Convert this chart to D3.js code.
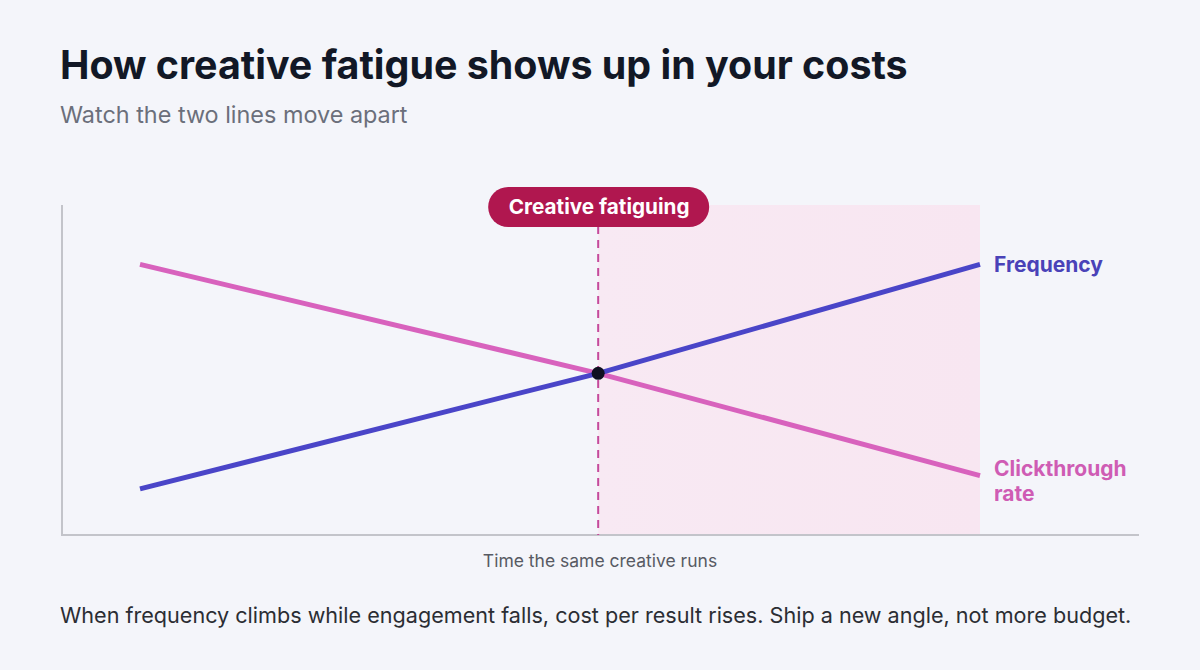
<!DOCTYPE html>
<html><head><meta charset="utf-8">
<script src="https://cdn.jsdelivr.net/npm/d3@7"></script>
<style>
html,body{margin:0;padding:0;background:#f4f5fa;}
svg{display:block;font-family:Inter,"Noto Sans",sans-serif;}
</style></head>
<body>
<svg id="chart" width="1200" height="670"></svg>
<script>
const timePoints = [0, 6, 11];
const frequency = [14, 49, 82];
const clickthrough = [82, 49, 18];
const fatigueStart = 6;
const fatigueEnd = 11;
const seriesNames = ["Frequency", "Clickthrough rate"];

const svg = d3.select("#chart");
svg.append("rect").attr("width",1200).attr("height",670).attr("fill","#f4f5fa");

svg.append("text").attr("x",60).attr("y",79).attr("font-size",39.4).attr("font-weight",700)
  .attr("fill","#121826").text("How creative fatigue shows up in your costs");
svg.append("text").attr("x",60).attr("y",123).attr("font-size",23.4).attr("fill","#6b6f7b")
  .text("Watch the two lines move apart");

const x = d3.scaleLinear().domain([0, 11]).range([140, 980]);
const y = d3.scaleLinear().domain([0, 100]).range([535, 205]);
const xAxisStart = 62, xAxisEnd = 1139;

// shaded fatigue zone
const defs = svg.append("defs");
const g = defs.append("linearGradient").attr("id","zone").attr("x1","0").attr("x2","1");
g.append("stop").attr("offset","0").attr("stop-color","#f8e9f3");
g.append("stop").attr("offset","1").attr("stop-color","#f8e6f1");
svg.append("rect").attr("x",x(fatigueStart)).attr("y",y(100))
  .attr("width",x(fatigueEnd)-x(fatigueStart)).attr("height",y(0)-y(100)).attr("fill","url(#zone)");

// axes
svg.append("line").attr("x1",xAxisStart).attr("x2",xAxisStart).attr("y1",y(100)).attr("y2",y(0))
  .attr("stroke","#c3c4ca").attr("stroke-width",2);
svg.append("line").attr("x1",xAxisStart-1).attr("x2",xAxisEnd).attr("y1",y(0)).attr("y2",y(0))
  .attr("stroke","#c3c4ca").attr("stroke-width",2);

// dashed marker
svg.append("line").attr("x1",x(fatigueStart)).attr("x2",x(fatigueStart))
  .attr("y1",226).attr("y2",y(0)).attr("stroke","#c54a9c").attr("stroke-width",2)
  .attr("stroke-dasharray","8,6");

const line = d3.line().x((d,i)=>x(timePoints[i])).y(d=>y(d));
svg.append("path").datum(clickthrough).attr("d",line).attr("fill","none")
  .attr("stroke","#d862bd").attr("stroke-width",5);
svg.append("path").datum(frequency).attr("d",line).attr("fill","none")
  .attr("stroke","#4a45c8").attr("stroke-width",5);

svg.append("circle").attr("cx",x(timePoints[1])).attr("cy",y(frequency[1])).attr("r",6.5).attr("fill","#0f1020");

// badge
const bx = x(fatigueStart);
svg.append("rect").attr("x",bx-110).attr("y",187).attr("width",221).attr("height",40)
  .attr("rx",20).attr("fill","#b0174f");
svg.append("text").attr("x",bx+1).attr("y",214).attr("text-anchor","middle").attr("font-size",20.7)
  .attr("font-weight",700).attr("fill","#ffffff").text("Creative fatiguing");

// series labels
svg.append("text").attr("x",994).attr("y",y(frequency[2])+8).attr("font-size",21).attr("font-weight",700)
  .attr("fill","#4a42b8").text(seriesNames[0]);
const ct = svg.append("text").attr("x",994).attr("y",476).attr("font-size",21).attr("font-weight",700)
  .attr("fill","#cf5cb4");
ct.append("tspan").attr("x",994).text("Clickthrough");
ct.append("tspan").attr("x",994).attr("dy",25).text("rate");

svg.append("text").attr("x",600).attr("y",567).attr("text-anchor","middle").attr("font-size",17.5)
  .attr("fill","#575a63").text("Time the same creative runs");

svg.append("text").attr("x",60).attr("y",623).attr("font-size",21.6).attr("fill","#2b2d33")
  .text("When frequency climbs while engagement falls, cost per result rises. Ship a new angle, not more budget.");
</script>
</body></html>
